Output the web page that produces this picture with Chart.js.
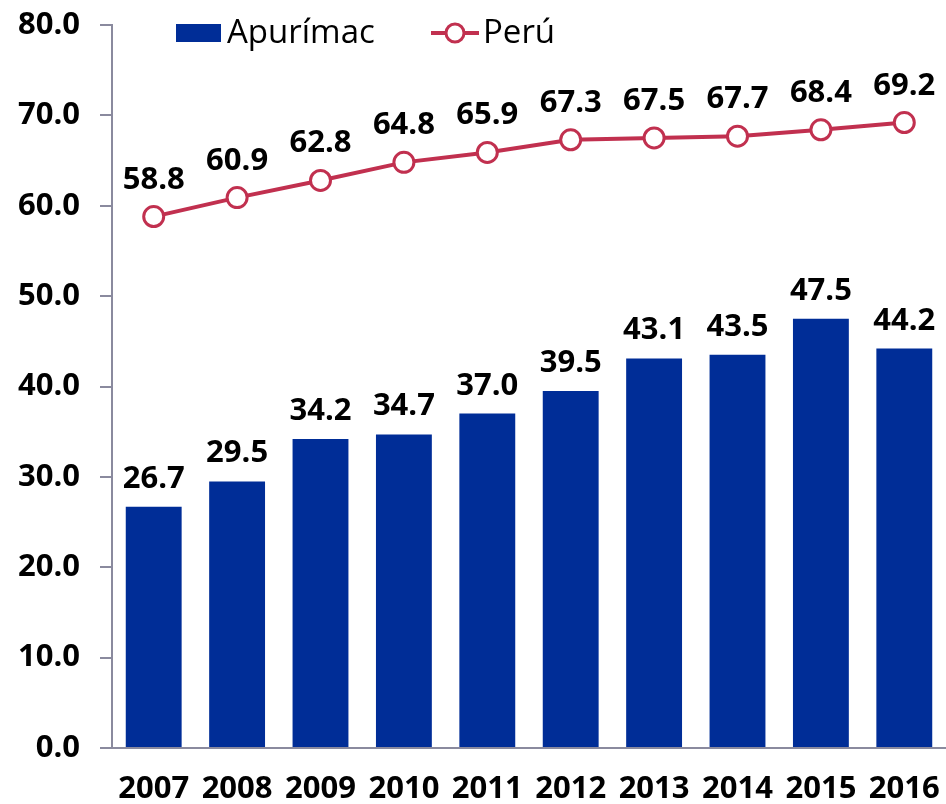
<!DOCTYPE html>
<html>
<head>
<meta charset="utf-8">
<script src="https://cdn.jsdelivr.net/npm/chart.js@4/dist/chart.umd.min.js"></script>
<style>
  html, body { margin: 0; padding: 0; background: #fff; }
  #wrap { width: 946px; height: 804px; }
</style>
</head>
<body>
<div id="wrap"><canvas id="chart"></canvas></div>
<script>
const years = ['2007', '2008', '2009', '2010', '2011', '2012', '2013', '2014', '2015', '2016'];
const apurimac = [26.7, 29.5, 34.2, 34.7, 37.0, 39.5, 43.1, 43.5, 47.5, 44.2];
const peru = [58.8, 60.9, 62.8, 64.8, 65.9, 67.3, 67.5, 67.7, 68.4, 69.2];
const seriesNames = ['Apurímac', 'Perú'];

const barColor = '#002D97';
const lineColor = '#C1304F';
const axisColor = '#8A8A9E';
const fontFamily = '"Open Sans"';

// value labels above bars and points
const valueLabels = {
    id: 'valueLabels',
    afterDatasetsDraw(chart) {
        const ctx = chart.ctx;
        ctx.save();
        ctx.font = 'bold 31px ' + fontFamily;
        ctx.fillStyle = '#000';
        ctx.textAlign = 'center';
        ctx.textBaseline = 'alphabetic';
        chart.data.datasets.forEach((ds, i) => {
            const meta = chart.getDatasetMeta(i);
            const off = ds.type === 'line' ? 28 : 19;
            meta.data.forEach((el, j) => {
                ctx.fillText(ds.data[j].toFixed(1), el.x, el.y - off);
            });
        });
        ctx.restore();
    }
};

// legend drawn at top of plot
const topLegend = {
    id: 'topLegend',
    afterDraw(chart) {
        const ctx = chart.ctx;
        ctx.save();
        ctx.font = '33px ' + fontFamily;
        ctx.textBaseline = 'alphabetic';
        ctx.fillStyle = barColor;
        ctx.fillRect(176, 24, 45, 18);
        ctx.fillStyle = '#000';
        ctx.fillText(seriesNames[0], 227, 43);

        ctx.strokeStyle = lineColor;
        ctx.lineWidth = 4;
        ctx.beginPath();
        ctx.moveTo(431, 33);
        ctx.lineTo(479, 33);
        ctx.stroke();
        ctx.beginPath();
        ctx.arc(455, 33, 9, 0, Math.PI * 2);
        ctx.fillStyle = '#fff';
        ctx.fill();
        ctx.lineWidth = 3;
        ctx.stroke();
        ctx.fillStyle = '#000';
        ctx.fillText(seriesNames[1], 483, 43);
        ctx.restore();
    }
};

const tickFont = { family: 'Open Sans', size: 31, weight: 'bold' };

const ctx = document.getElementById('chart').getContext('2d');
new Chart(ctx, {
    data: {
        labels: years,
        datasets: [
            {
                type: 'line',
                label: seriesNames[1],
                data: peru,
                borderColor: lineColor,
                borderWidth: 4,
                pointRadius: 10,
                pointBorderWidth: 3,
                pointBackgroundColor: '#fff',
                pointBorderColor: lineColor,
                tension: 0,
                order: 0
            },
            {
                type: 'bar',
                label: seriesNames[0],
                data: apurimac,
                backgroundColor: barColor,
                categoryPercentage: 1,
                barPercentage: 0.67,
                order: 1
            }
        ]
    },
    options: {
        responsive: true,
        maintainAspectRatio: false,
        animation: false,
        layout: { autoPadding: false, padding: { top: 25, right: 0, left: 0, bottom: 0 } },
        plugins: {
            legend: { display: false },
            tooltip: { enabled: false }
        },
        scales: {
            x: {
                grid: { display: false },
                border: { display: true, color: axisColor, width: 2 },
                ticks: { color: '#000', font: tickFont, padding: 15 },
                afterFit: s => { s.height = 56; s.paddingLeft = 0; s.paddingRight = 0; }
            },
            y: {
                min: 0,
                max: 80,
                ticks: {
                    stepSize: 10,
                    color: '#000',
                    font: tickFont,
                    padding: 20,
                    callback: v => v.toFixed(1)
                },
                grid: { drawOnChartArea: false, tickLength: 12, color: axisColor, lineWidth: 2 },
                border: { display: true, color: axisColor, width: 2 },
                afterFit: s => { s.width = 112; s.paddingTop = 0; s.paddingBottom = 0; }
            }
        }
    },
    plugins: [valueLabels, topLegend]
});
</script>
</body>
</html>
